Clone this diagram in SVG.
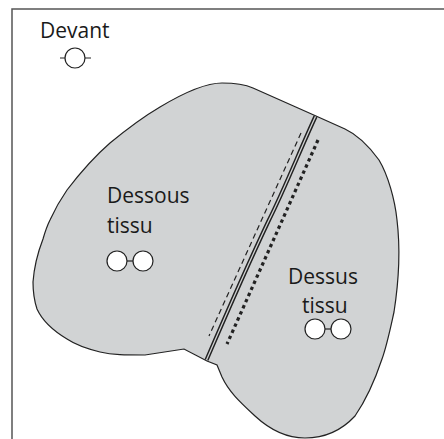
<svg xmlns="http://www.w3.org/2000/svg" width="444" height="439" viewBox="0 0 444 439">
<style>
text{font-family:"Open Sans","Noto Sans",sans-serif;font-size:21px;fill:#1a1a1a}
.btn{fill:#fff;stroke:#222;stroke-width:1.2}
.tick{fill:none;stroke:#222;stroke-width:1.2}
</style>
<rect width="444" height="439" fill="#fff"/>
<path id="frame" d="M444 9H12V439" fill="none" stroke="#555" stroke-width="1.5"/>
<g id="fabric">
<path d="M222 83C235 83 244 84 253 88L316 116L345 129C358 135 371 149 379 160C388 175 395 200 397 220C400 245 399 280 394 312C390 330 387 345 382 359C375 380 366 400 355 416C342 430 325 438 305 438C285 438 268 428 255 416C240 402 229 392 222 377L217 365L207 361L184 349L145 355C125 355 113 355 100 352C88 349 76 345 67 339C52 330 42 320 37 309C34 300 33 292 33 282C34 268 38 252 43 239C45 232 47 226 50 220C55 209 60 200 67 190C80 173 95 156 110 143C127 129 143 117 160 107C180 95 205 83 222 83Z" fill="#d1d3d4" stroke="#222" stroke-width="1.2"/>
</g>
<g id="connectors" fill="none">
<path d="M315.500 116.500C300 150 285 188 269 220C250 260 228 310 206.500 360" stroke="#222" stroke-width="4.200"/>
<path d="M315.500 116.500C300 150 285 188 269 220C250 260 228 310 206.500 360" stroke="#d1d3d4" stroke-width="1.300"/>
<path d="M301 133L209 336" stroke="#222" stroke-width="1.200" stroke-dasharray="5.500 3.700"/>
<path d="M318 140L227 344" stroke="#222" stroke-width="3.200" stroke-dasharray="3.400 3.300"/>
</g>
<g id="devant">
<text x="40" y="38">Devant</text>
<path class="tick" d="M60 58H66M84 58H91"/>
<circle class="btn" cx="75" cy="58" r="10"/>
</g>
<g id="dessous">
<text x="107" y="203">Dessous</text>
<text x="107" y="233">tissu</text>
<path class="tick" d="M127 261H133"/>
<circle class="btn" cx="117" cy="261" r="10"/>
<circle class="btn" cx="143" cy="261" r="10"/>
</g>
<g id="dessus">
<text x="288" y="284">Dessus</text>
<text x="302" y="313">tissu</text>
<path class="tick" d="M325 329H331"/>
<circle class="btn" cx="315" cy="329" r="10"/>
<circle class="btn" cx="341" cy="329" r="10"/>
</g>
</svg>
